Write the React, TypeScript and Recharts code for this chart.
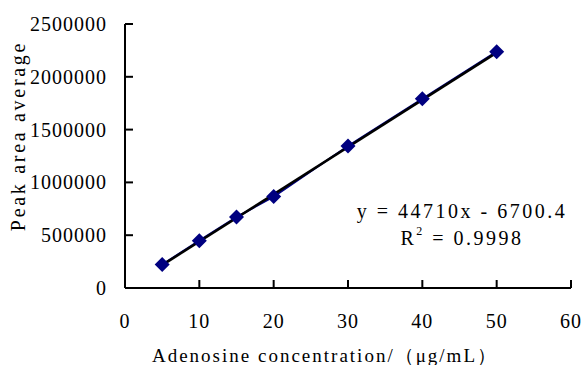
import { LineChart, Line, XAxis, YAxis, Label } from 'recharts';

// calibration data: adenosine standard curve
const concentrations = [5, 10, 15, 20, 30, 40, 50];
const peakAreas = [222000, 448000, 672000, 866000, 1345000, 1792000, 2238000];
const xTicks = [0, 10, 20, 30, 40, 50, 60];
const yTicks = [0, 500000, 1000000, 1500000, 2000000, 2500000];

// linear fit shown on the chart
const slope = 44710;
const intercept = -6700.4;
const r2 = '0.9998';

const points = concentrations.map((c, i) => ({ x: c, y: peakAreas[i] }));
const trendEnds = [concentrations[0], concentrations[concentrations.length - 1]];
const trend = trendEnds.map((x) => ({ x, y: slope * x + intercept }));

const FONT = '"Liberation Serif", "Times New Roman", serif';

const Diamond = (props: any) => {
    const { cx, cy } = props;
    if (cx == null || cy == null) return null;
    const r = 7.5;
    return <path d={`M${cx},${cy - r}L${cx + r},${cy}L${cx},${cy + r}L${cx - r},${cy}Z`} fill="#000080" />;
};

const YTick = (props: any) => {
    const { x, y, payload } = props;
    return (
        <g>
            <line x1={x} x2={x + 8} y1={y} y2={y} stroke="#000" strokeWidth={2} />
            <text x={x - 18} y={y} textAnchor="end" dominantBaseline="central"
                fontFamily={FONT} fontSize={20} letterSpacing={1} fill="#000">
                {payload.value}
            </text>
        </g>
    );
};

const XTick = (props: any) => {
    const { x, y, payload } = props;
    return (
        <g>
            <line x1={x} x2={x} y1={y} y2={y - 8} stroke="#000" strokeWidth={2} />
            <text x={x} y={y + 33} textAnchor="middle" dominantBaseline="central"
                fontFamily={FONT} fontSize={20} letterSpacing={1} fill="#000">
                {payload.value}
            </text>
        </g>
    );
};

export default function App() {
    return (
        <div style={{ position: 'absolute', left: 0, top: 0, width: 585, height: 365, background: '#fff' }}>
            <LineChart width={585} height={365} margin={{ top: 24, right: 14, bottom: 0, left: 0 }}>
                <XAxis
                    dataKey="x"
                    type="number"
                    domain={[0, 60]}
                    ticks={xTicks}
                    height={77}
                    tickSize={0}
                    tickMargin={0}
                    tickLine={false}
                    axisLine={{ stroke: '#000', strokeWidth: 2 }}
                    tick={<XTick />}
                    interval={0}
                >
                    <Label
                        content={(p: any) => (
                            <text x={325} y={355} textAnchor="middle" dominantBaseline="central"
                                fontFamily={FONT} fontSize={19} letterSpacing={2} fill="#000">
                                Adenosine concentration/（μg/mL）
                            </text>
                        )}
                    />
                </XAxis>
                <YAxis
                    dataKey="y"
                    type="number"
                    domain={[0, 2500000]}
                    ticks={yTicks}
                    width={125}
                    tickSize={0}
                    tickMargin={0}
                    tickLine={false}
                    axisLine={{ stroke: '#000', strokeWidth: 2 }}
                    tick={<YTick />}
                    interval={0}
                >
                    <Label
                        content={(p: any) => (
                            <text x={18} y={136} textAnchor="middle" dominantBaseline="central"
                                transform="rotate(-90 18 136)"
                                fontFamily={FONT} fontSize={20} letterSpacing={2.7} fill="#000">
                                Peak area average
                            </text>
                        )}
                    />
                </YAxis>
                <Line
                    data={points}
                    dataKey="y"
                    stroke="#000080"
                    strokeWidth={2}
                    dot={<Diamond />}
                    activeDot={false}
                    isAnimationActive={false}
                />
                <Line
                    data={trend}
                    dataKey="y"
                    stroke="#000"
                    strokeWidth={2.5}
                    dot={false}
                    activeDot={false}
                    isAnimationActive={false}
                />
            </LineChart>
            <div style={{
                position: 'absolute', left: 462, top: 198, transform: 'translateX(-50%)',
                fontFamily: FONT, fontSize: 20, lineHeight: '27px', letterSpacing: 2.5,
                whiteSpace: 'pre', textAlign: 'center', color: '#000',
            }}>
                <div>{`y = ${slope}x - ${Math.abs(intercept)}`}</div>
                <div>R<sup style={{ fontSize: 12, verticalAlign: 'top', lineHeight: '12px' }}>2</sup>{` = ${r2}`}</div>
            </div>
        </div>
    );
}
